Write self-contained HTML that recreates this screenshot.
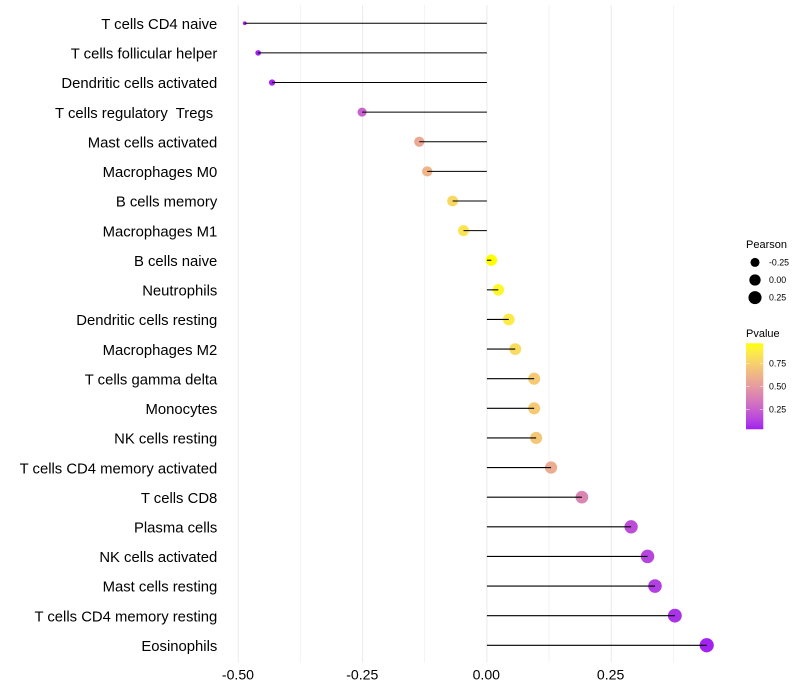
<!DOCTYPE html>
<html>
<head>
<meta charset="utf-8">
<style>
html,body{margin:0;padding:0;background:#fff;}
svg{display:block;}
text{font-family:"Liberation Sans",sans-serif;white-space:pre;fill:#000;}
</style>
</head>
<body>
<svg id="chart" xmlns="http://www.w3.org/2000/svg" width="800" height="700" viewBox="0 0 800 700">
  <rect x="0" y="0" width="800" height="700" fill="#ffffff"/>
  <g id="grid"></g>
  <g id="points"></g>
  <g id="stems"></g>
  <g id="ylabels"></g>
  <g id="xlabels"></g>
  <g id="sizeLegend">
    <text x="746" y="248" font-size="11">Pearson</text>
  </g>
  <g id="colorLegend">
    <text x="746" y="337" font-size="11">Pvalue</text>
  </g>
</svg>
<script>
const categories = ["T cells CD4 naive","T cells follicular helper","Dendritic cells activated","T cells regulatory  Tregs ","Mast cells activated","Macrophages M0","B cells memory","Macrophages M1","B cells naive","Neutrophils","Dendritic cells resting","Macrophages M2","T cells gamma delta","Monocytes","NK cells resting","T cells CD4 memory activated","T cells CD8","Plasma cells","NK cells activated","Mast cells resting","T cells CD4 memory resting","Eosinophils"];
const pearson = [-0.487,-0.460,-0.432,-0.251,-0.136,-0.120,-0.069,-0.047,0.009,0.023,0.044,0.057,0.095,0.095,0.099,0.129,0.191,0.290,0.323,0.338,0.378,0.442];
const pvalue = [0.033,0.035,0.050,0.250,0.560,0.620,0.780,0.840,0.967,0.930,0.870,0.800,0.720,0.720,0.700,0.580,0.400,0.170,0.140,0.120,0.080,0.040];
const xTicks = [-0.5,-0.25,0,0.25];
const xTickLabels = ["-0.50","-0.25","0.00","0.25"];
const xMinorTicks = [-0.375,-0.125,0.125,0.375];
const sizeBreaks = [-0.25,0,0.25];
const sizeLabels = ["-0.25","0.00","0.25"];
const colorBreaks = [0.25,0.5,0.75];
const colorLabels = ["0.25","0.50","0.75"];
const colorDomain = [0.033,0.967];
const lowColor = [160,32,240];
const highColor = [255,255,0];

const NS = "http://www.w3.org/2000/svg";
const sizeMin = -0.487, sizeMax = 0.442;
function xScale(v){ return 486.9 + v * 497.3; }
function yScale(i){ return 23.26 + i * 29.62; }
function rScale(v){
  const t = Math.min(1, Math.max(0, (v - sizeMin) / (sizeMax - sizeMin)));
  return 1.9 + 5.2 * Math.sqrt(t);
}
function legendColorY(p){ return 386.3 - (p - 0.5) * 92; }

function toLab(c){
  const f = c.map(function(v){ v /= 255; return v > 0.04045 ? Math.pow((v + 0.055) / 1.055, 2.4) : v / 12.92; });
  const X = (0.4124*f[0] + 0.3576*f[1] + 0.1805*f[2]) / 0.95047;
  const Y = 0.2126*f[0] + 0.7152*f[1] + 0.0722*f[2];
  const Z = (0.0193*f[0] + 0.1192*f[1] + 0.9505*f[2]) / 1.08883;
  const g = function(t){ return t > 0.008856 ? Math.cbrt(t) : 7.787 * t + 16 / 116; };
  return [116 * g(Y) - 16, 500 * (g(X) - g(Y)), 200 * (g(Y) - g(Z))];
}
function fromLab(l){
  const fy = (l[0] + 16) / 116, fx = fy + l[1] / 500, fz = fy - l[2] / 200;
  const h = function(t){ return t * t * t > 0.008856 ? t * t * t : (t - 16 / 116) / 7.787; };
  const X = h(fx) * 0.95047, Y = h(fy), Z = h(fz) * 1.08883;
  const rgb = [3.2406*X - 1.5372*Y - 0.4986*Z, -0.9689*X + 1.8758*Y + 0.0415*Z, 0.0557*X - 0.2040*Y + 1.0570*Z];
  return "rgb(" + rgb.map(function(v){
    v = v > 0.0031308 ? 1.055 * Math.pow(v, 1 / 2.4) - 0.055 : 12.92 * v;
    return Math.round(Math.min(1, Math.max(0, v)) * 255);
  }).join(",") + ")";
}
const labLow = toLab(lowColor), labHigh = toLab(highColor);
function colorScale(p){
  const t = Math.min(1, Math.max(0, (p - colorDomain[0]) / (colorDomain[1] - colorDomain[0])));
  return fromLab(labLow.map(function(v, i){ return v + (labHigh[i] - v) * t; }));
}
function make(tag, parent, attrs){
  const el = document.createElementNS(NS, tag);
  for (const k in attrs) el.setAttribute(k, attrs[k]);
  parent.appendChild(el);
  return el;
}

const gridG = document.getElementById("grid");
xMinorTicks.forEach(function(v){
  const el = make("line", gridG, {x1:xScale(v), x2:xScale(v), y1:5, y2:662.5, stroke:"#ebebeb", "stroke-width":0.55});
  
  
});
xTicks.forEach(function(v){
  const el = make("line", gridG, {x1:xScale(v), x2:xScale(v), y1:5, y2:662.5, stroke:"#ebebeb", "stroke-width":1.07});
  
  
});

const pointsG = document.getElementById("points");
const stemsG = document.getElementById("stems");
const yLabG = document.getElementById("ylabels");
categories.forEach(function(name, i){
  const pt = make("circle", pointsG, {cx:xScale(pearson[i]), cy:yScale(i), r:rScale(pearson[i]), fill:colorScale(pvalue[i])});
  
  
  const st = make("line", stemsG, {x1:xScale(0), x2:xScale(pearson[i]), y1:yScale(i), y2:yScale(i), stroke:"#000", "stroke-width":1.07});
  
  
  const lb = make("text", yLabG, {x:217.3, y:yScale(i) + 5.7, "text-anchor":"end", "font-size":14.85});
  
  
  lb.setAttribute('xml:space', 'preserve');
  lb.textContent = name;
});

const xLabG = document.getElementById("xlabels");
xTicks.forEach(function(v, i){
  const lb = make("text", xLabG, {x:xScale(v) - (v < 0 ? 0.3 : 0.6), y:679.5, "text-anchor":"middle", "font-size":14.1});
  
  
  lb.textContent = xTickLabels[i];
});

const sizeG = document.getElementById("sizeLegend");
const sizeRowY = function(i){ return 262.4 + i * 17.6; };
sizeBreaks.forEach(function(v, i){
  const c = make("circle", sizeG, {cx:755, cy:sizeRowY(i), r:rScale(v), fill:"#000"});
  
  
  const t = make("text", sizeG, {x:769, y:sizeRowY(i) + 3.1, "font-size":8.8});
  
  
  t.textContent = sizeLabels[i];
});

const colorG = document.getElementById("colorLegend");
const defs = make("defs", colorG, {});
const grad = make("linearGradient", defs, {id:"pvalGrad", x1:0, y1:1, x2:0, y2:0});
for (let s = 0; s <= 20; s++) {
  const p = colorDomain[0] + (colorDomain[1] - colorDomain[0]) * s / 20;
  make("stop", grad, {offset:s / 20, "stop-color":colorScale(p)});
}
const bar = make("rect", colorG, {x:746, y:legendColorY(colorDomain[1]), width:17.3, height:legendColorY(colorDomain[0]) - legendColorY(colorDomain[1]), fill:"url(#pvalGrad)"});


colorBreaks.forEach(function(p, i){
  const y = legendColorY(p);
  [[746, 749.5], [759.8, 763.3]].forEach(function(seg){
    const tk = make("line", colorG, {x1:seg[0], x2:seg[1], y1:y, y2:y, stroke:"#fff", "stroke-width":0.6, "stroke-opacity":0.8});
    
    
  });
  const t = make("text", colorG, {x:769, y:y + 3.1, "font-size":8.8});
  
  
  t.textContent = colorLabels[i];
});
</script>
</body>
</html>
